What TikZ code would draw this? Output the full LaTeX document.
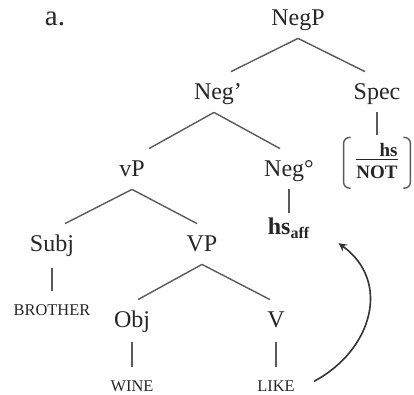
\documentclass[tikz,border=0pt]{standalone}
\usepackage{fontspec}
\setmainfont{Liberation Serif}
\usepackage{tikz}
\usetikzlibrary{positioning}
\usetikzlibrary{arrows}
\tikzstyle{cat} = [font=\fontsize{12}{14}\selectfont, text height=8pt, text depth=0pt, inner xsep=0pt, inner ysep=6pt, anchor=base]
\tikzstyle{word} = [font=\fontsize{8.2}{10}\selectfont, text height=5.5pt, text depth=0pt, inner sep=0pt]
\tikzstyle{head} = [font=\fontsize{12}{14}\selectfont\bfseries, text height=8pt, text depth=0pt, inner sep=0pt]
\tikzstyle{branch} = [line width=0.7pt, draw=black!65]
\tikzstyle{movearrow} = [thick,->,>=stealth, draw=black!80]

\begin{document}
\begin{tikzpicture}[x=0.5pt, y=0.5pt, text=black!85]
	\useasboundingbox (0,0) rectangle (414,-395);
	
	%Nodes
	\node[font=\fontsize{14.5}{16}\selectfont, anchor=base, inner sep=0pt] (Label) at (55,-26) {a.};
	\node[cat] (NegP) at (298,-26) {NegP};
	\node[cat] (NegBar) at (214,-100) {Neg\rlap{'}};
	\node[cat] (Spec) at (377,-100) {Spec};
	\node[cat] (vP) at (132,-177) {vP};
	\node[cat] (NegHead) at (289,-177) {Neg°};
	\node[cat] (Subj) at (52,-252) {Subj};
	\node[cat] (VP) at (202,-252) {VP};
	\node[cat] (Obj) at (132,-328) {Obj};
	\node[cat] (V) at (276,-328) {V};
	\node[head, below=14.5pt of NegHead] (Aff) {hs\textsubscript{aff}};
	\node[word, below=20pt of Subj] (Brother) {BROTHER};
	\node[word, below=20pt of Obj] (Wine) {WINE};
	\node[word, below=20pt of V] (Like) {LIKE};
	\node[below=12.5pt of Spec, minimum width=33pt, minimum height=25pt, inner sep=0pt, font=\fontsize{9.5}{11}\selectfont\bfseries] (SpecBox) {\setlength{\arrayrulewidth}{0.6pt}\begin{tabular}{@{}r@{}}hs\\[-2pt]\hline\rule{0pt}{9pt}NOT\end{tabular}};
	
	%Lines
	\draw[branch] (NegP.south) -- ([xshift=8.5pt]NegBar.north);
	\draw[branch] (NegP.south) -- ([xshift=-6pt]Spec.north);
	\draw[branch] (NegBar.south) -- ([xshift=8.5pt]vP.north);
	\draw[branch] (NegBar.south) -- ([xshift=-4.5pt]NegHead.north);
	\draw[branch] (vP.south) -- ([xshift=6.5pt]Subj.north);
	\draw[branch] (vP.south) -- ([xshift=-2.5pt]VP.north);
	\draw[branch] (VP.south) -- ([xshift=3pt]Obj.north);
	\draw[branch] (VP.south) -- ([xshift=-3pt]V.north);
	\draw[branch, shorten >=1pt] (Spec.south) -- (SpecBox.north);
	\draw[branch, shorten >=2.5pt] (NegHead.south) -- (Aff.north);
	\draw[branch, shorten <=2pt, shorten >=6.5pt] (Subj.south) -- (Brother.north);
	\draw[branch, shorten <=1pt, shorten >=6.5pt] (Obj.south) -- (Wine.north);
	\draw[branch, shorten <=1pt, shorten >=6.5pt] (V.south) -- (Like.north);
	
	%Brackets
	\draw[branch, rounded corners=3pt] ([xshift=3.5pt]SpecBox.north west) -- (SpecBox.north west) -- (SpecBox.south west) -- ([xshift=3.5pt]SpecBox.south west);
	\draw[branch, rounded corners=3pt] ([xshift=-3.5pt]SpecBox.north east) -- (SpecBox.north east) -- (SpecBox.south east) -- ([xshift=-3.5pt]SpecBox.south east);
	
	%Movement
	\draw[movearrow] ([xshift=9.5pt,yshift=2.5pt]Like.east) to[out=28,in=-36,looseness=1.2] ([xshift=14pt,yshift=-4pt]Aff.south east);
\end{tikzpicture}
\end{document}
